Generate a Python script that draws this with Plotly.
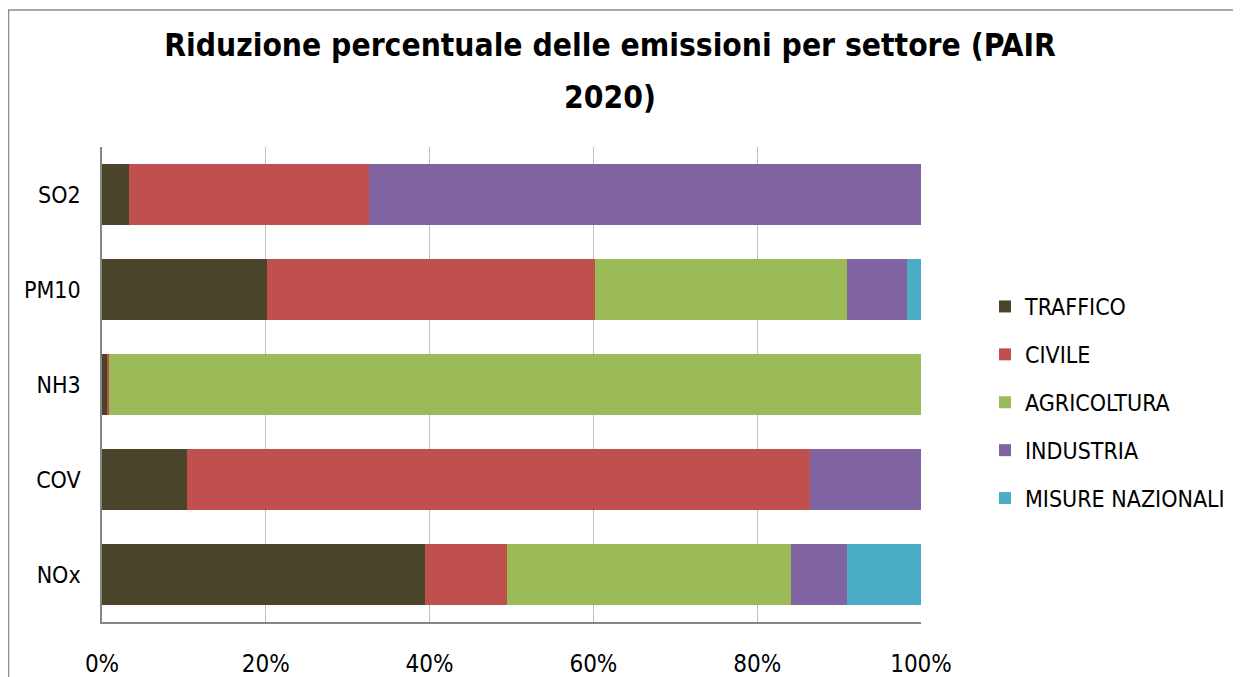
import plotly.graph_objects as go

categories = ["NOx", "COV", "NH3", "PM10", "SO2"]
traffico = [39.4, 10.35, 0.55, 20.1, 3.25]
civile = [10.05, 76.05, 0.25, 40.1, 29.35]
agricoltura = [34.7, 0.0, 99.2, 30.8, 0.0]
industria = [6.85, 13.6, 0.0, 7.3, 67.4]
misure_nazionali = [9.0, 0.0, 0.0, 1.7, 0.0]

series = [
    ("TRAFFICO", traffico, "#4a452a"),
    ("CIVILE", civile, "#c0504d"),
    ("AGRICOLTURA", agricoltura, "#9bbb59"),
    ("INDUSTRIA", industria, "#8064a2"),
    ("MISURE NAZIONALI", misure_nazionali, "#4bacc6"),
]

FONT = "DejaVu Sans Condensed, Liberation Sans, sans-serif"

fig = go.Figure()
for name, vals, col in series:
    fig.add_trace(go.Bar(
        y=categories, x=vals, name=name, orientation="h",
        marker=dict(color=col, line=dict(width=0)),
        legendgroup=name,
    ))

W, H = 1241, 677
# page body has an 8px margin: positions below are figure coordinates
ml, mr, mt, mb = 94, 328, 139, 63
pw = W - ml - mr
ph = H - mt - mb

title_text = ("<b><span style='font-size:31.5px'>Riduzione percentuale delle emissioni per settore (PAIR</span>"
              "<br><span style='font-size:31.5px'>2020)</span></b>")

fig.update_layout(
    width=W, height=H,
    barmode="stack", bargap=0.35,
    plot_bgcolor="white", paper_bgcolor="white",
    margin=dict(l=ml, r=mr, t=mt, b=mb, autoexpand=False),
    font=dict(family=FONT, size=22, color="#000000"),
    title=dict(
        text=title_text,
        x=602 / W, xanchor="center", y=1 - 48 / H, yanchor="top",
        font=dict(family=FONT, size=40, color="#000000"),
    ),
    xaxis=dict(
        range=[0, 100], tickvals=[0, 20, 40, 60, 80, 100],
        ticktext=["0%", "20%", "40%", "60%", "80%", "100%"],
        showgrid=True, gridcolor="#bfbfbf", gridwidth=1,
        showline=True, linecolor="#868686", linewidth=1.5,
        zeroline=False, ticks="", ticklabelstandoff=19,
        tickfont=dict(size=24, family=FONT),
    ),
    yaxis=dict(
        categoryorder="array", categoryarray=categories,
        showline=True, linecolor="#868686", linewidth=1.5,
        showgrid=False, ticks="", ticklabelstandoff=15,
        tickfont=dict(size=23, family=FONT),
    ),
    legend=dict(
        x=(977 - ml) / pw, xanchor="left",
        y=1 - (277 - mt) / ph, yanchor="top",
        traceorder="grouped", tracegroupgap=15,
        font=dict(size=23, family=FONT),
        itemwidth=30,
    ),
    shapes=[
        dict(type="line", xref="paper", yref="paper",
             x0=(0 - ml) / pw, x1=(W + 5 - ml) / pw,
             y0=1 + (mt - 2) / ph, y1=1 + (mt - 2) / ph,
             line=dict(color="#8c8c8c", width=1.5)),
        dict(type="line", xref="paper", yref="paper",
             x0=(0.5 - ml) / pw, x1=(0.5 - ml) / pw,
             y0=1 + (mt - 2) / ph, y1=-(mb + 5) / ph,
             line=dict(color="#8c8c8c", width=1.5)),
    ],
)

fig.write_html("out.html")
